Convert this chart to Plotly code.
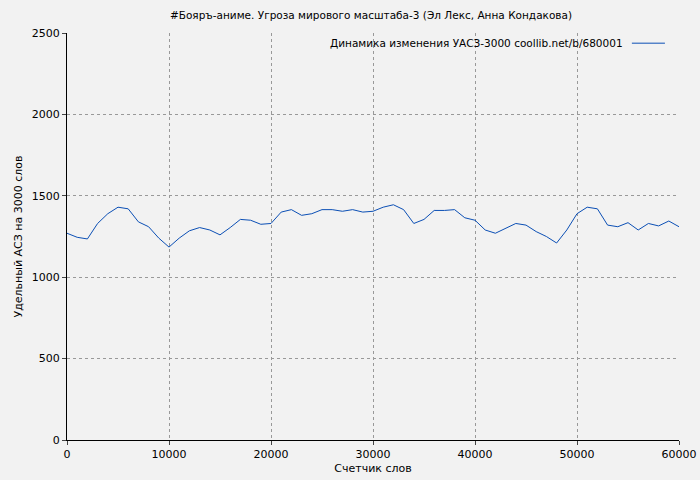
import plotly.graph_objects as go

words = list(range(0, 61000, 1000))
uasz = [1270,1245,1235,1330,1390,1430,1420,1340,1310,1240,1185,1240,1285,1305,1290,1260,1305,1355,1350,1325,
        1330,1400,1415,1380,1390,1415,1415,1405,1415,1400,1405,1430,1445,1415,1330,1355,1410,1410,1415,1365,
        1350,1290,1270,1300,1330,1320,1280,1250,1210,1290,1390,1430,1420,1320,1310,1335,1290,1330,1315,1345,1310]
title = "#Бояръ-аниме. Угроза мирового масштаба-3 (Эл Лекс, Анна Кондакова)"
legend_label = "Динамика изменения УАСЗ-3000 coollib.net/b/680001"

fig = go.Figure(go.Scatter(x=words, y=uasz, mode="lines", line=dict(color="#0b4fb5", width=1),
                           showlegend=False))
font = dict(family="DejaVu Sans", size=11, color="#000")
axis = dict(showline=True, linecolor="#000", linewidth=1, ticks="outside", ticklen=4,
            gridcolor="#999", griddash="dot", gridwidth=1, zeroline=False, mirror=False,
            automargin=False, tickfont=dict(size=11), tickformat="d")
fig.update_layout(
    width=700, height=480, paper_bgcolor="#f2f2f2", plot_bgcolor="#f2f2f2",
    margin=dict(l=67, r=21, t=33, b=40), font=font,
    title=dict(text=title, x=0.53, xanchor="center", y=0.975, yanchor="top", font=dict(size=10.5),
               automargin=False),
    xaxis=dict(axis, range=[0, 60000], dtick=10000,
               title=dict(text="Счетчик слов", standoff=4, font=dict(size=11))),
    yaxis=dict(axis, range=[0, 2500], dtick=500,
               title=dict(text="Удельный АСЗ на 3000 слов", standoff=6, font=dict(size=11))),
    annotations=[dict(text=legend_label, xref="paper", yref="paper", x=0.912, y=0.975,
                      xanchor="right", yanchor="middle", showarrow=False, font=dict(size=10.5))],
    shapes=[dict(type="line", xref="paper", yref="paper", x0=0.923, x1=0.977, y0=0.975, y1=0.975,
                 line=dict(color="#0b4fb5", width=1))],
)
fig.write_html("out.html", config={"displayModeBar": False},
               post_script="document.body.style.margin='0';document.body.style.background='#f2f2f2';")
